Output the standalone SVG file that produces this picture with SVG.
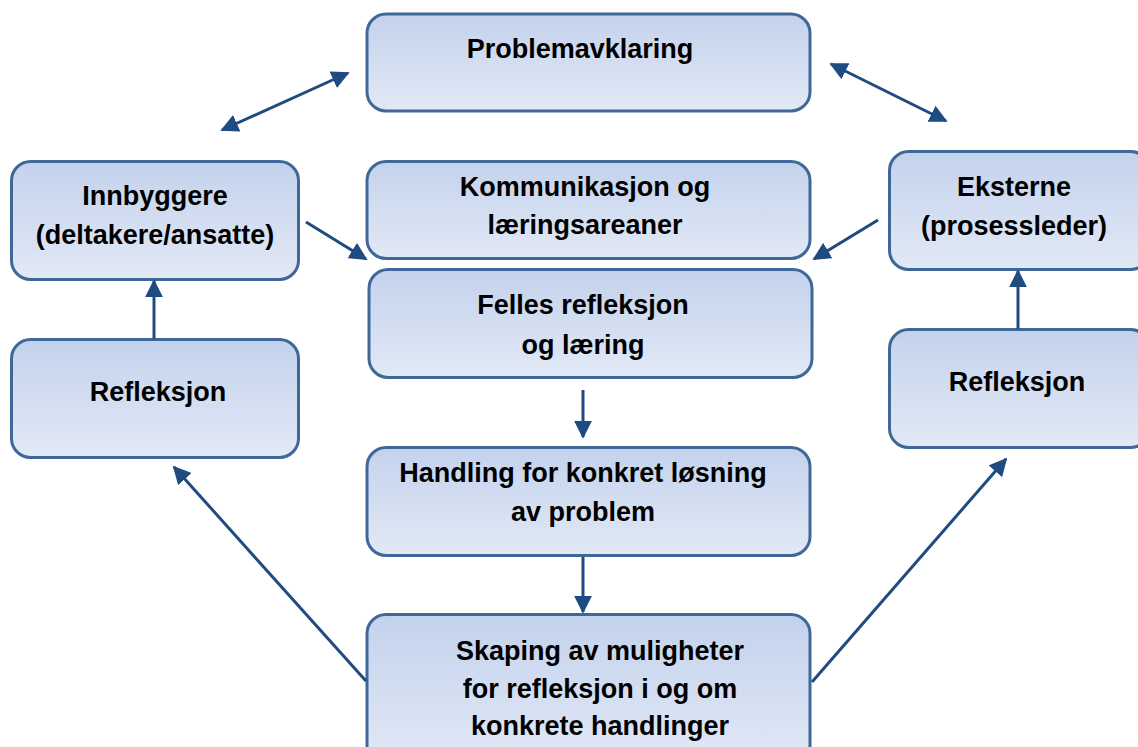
<svg xmlns="http://www.w3.org/2000/svg" width="1138" height="747" viewBox="0 0 1138 747">
<defs>
<linearGradient id="g" x1="0" y1="0" x2="0" y2="1">
<stop offset="0" stop-color="#C3D2EC"/>
<stop offset="1" stop-color="#E2E9F6"/>
</linearGradient>
<marker id="ah" viewBox="0 0 10 10" refX="9" refY="5" markerWidth="6" markerHeight="6" orient="auto-start-reverse" markerUnits="strokeWidth">
<path d="M0,0 L10,5 L0,10 z" fill="#1F4B80"/>
</marker>
<style>
.box{fill:url(#g);stroke:#3F6898;stroke-width:3}
.t{font-family:"Liberation Sans",Arial,sans-serif;font-weight:bold;font-size:27px;fill:#000;text-anchor:middle}
.c{stroke:#1F4B80;stroke-width:3;fill:none}
</style>
</defs>
<rect width="1138" height="747" fill="#fff"/>
<g id="n-problem"><rect class="box" x="367" y="14" width="443" height="97" rx="19"/><text class="t" x="580" y="58">Problemavklaring</text></g>
<g id="n-innbyggere"><rect class="box" x="11.500" y="161.500" width="287" height="118" rx="19"/><text class="t" x="155" y="205">Innbyggere</text><text class="t" x="155" y="244">(deltakere/ansatte)</text></g>
<g id="n-kommunikasjon"><rect class="box" x="367" y="161.500" width="443" height="97" rx="19"/><text class="t" x="585" y="196">Kommunikasjon og</text><text class="t" x="585" y="234">læringsareaner</text></g>
<g id="n-eksterne"><rect class="box" x="889.500" y="151.500" width="260" height="118" rx="19"/><text class="t" x="1014" y="196">Eksterne</text><text class="t" x="1014" y="235">(prosessleder)</text></g>
<g id="n-felles"><rect class="box" x="369" y="269.500" width="443" height="108" rx="19"/><text class="t" x="583" y="314">Felles refleksjon</text><text class="t" x="583" y="354">og læring</text></g>
<g id="n-refl-left"><rect class="box" x="11.500" y="339.500" width="287" height="118" rx="19"/><text class="t" x="158" y="401">Refleksjon</text></g>
<g id="n-refl-right"><rect class="box" x="889.500" y="329.500" width="260" height="118" rx="19"/><text class="t" x="1017" y="391">Refleksjon</text></g>
<g id="n-handling"><rect class="box" x="367" y="447.500" width="443" height="108" rx="19"/><text class="t" x="583" y="482">Handling for konkret løsning</text><text class="t" x="583" y="521">av problem</text></g>
<g id="n-skaping"><rect class="box" x="367" y="614.500" width="443" height="150" rx="19"/><text class="t" x="600" y="660">Skaping av muligheter</text><text class="t" x="600" y="698">for refleksjon i og om</text><text class="t" x="600" y="735">konkrete handlinger</text></g>
<g id="connectors">
<line class="c" x1="222" y1="130" x2="348" y2="73" marker-start="url(#ah)" marker-end="url(#ah)"/>
<line class="c" x1="831" y1="64" x2="946" y2="121" marker-start="url(#ah)" marker-end="url(#ah)"/>
<line class="c" x1="306" y1="222" x2="366" y2="259" marker-end="url(#ah)"/>
<line class="c" x1="878" y1="220" x2="814" y2="259" marker-end="url(#ah)"/>
<line class="c" x1="583" y1="390" x2="583" y2="437" marker-end="url(#ah)"/>
<line class="c" x1="583" y1="557" x2="583" y2="612" marker-end="url(#ah)"/>
<line class="c" x1="154" y1="339" x2="154" y2="281" marker-end="url(#ah)"/>
<line class="c" x1="1018" y1="329" x2="1018" y2="271" marker-end="url(#ah)"/>
<line class="c" x1="366" y1="681" x2="174" y2="467" marker-end="url(#ah)"/>
<line class="c" x1="812" y1="682" x2="1006" y2="459" marker-end="url(#ah)"/>
</g>
</svg>
